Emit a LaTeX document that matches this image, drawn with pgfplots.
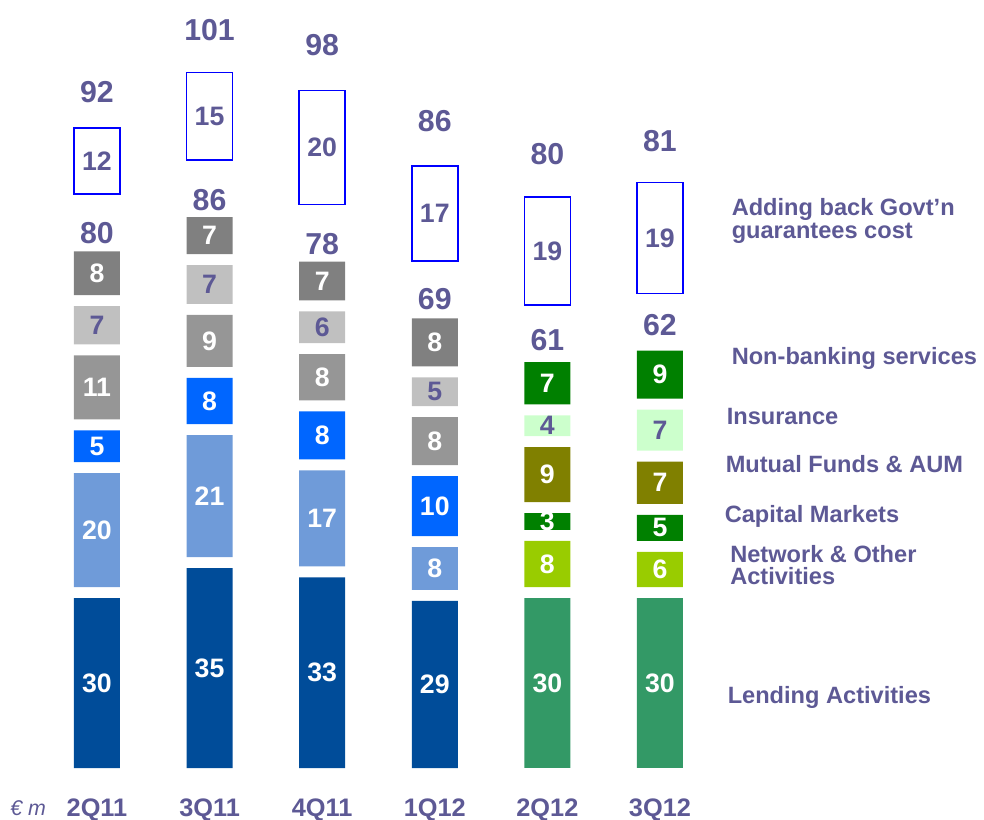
\documentclass[border=0pt]{standalone}
\usepackage{pgfplots}
\usepackage{pgfplotstable}
\pgfplotsset{compat=1.18}
\usepackage{fontspec}
\setmainfont{Liberation Sans}

\definecolor{txt}{HTML}{5D5995}
\definecolor{lendB}{HTML}{004C99}
\definecolor{netB}{HTML}{6F9BD9}
\definecolor{capB}{HTML}{0066FF}
\definecolor{mfB}{HTML}{969696}
\definecolor{insB}{HTML}{C0C0C0}
\definecolor{nbB}{HTML}{808080}
\definecolor{lendG}{HTML}{339966}
\definecolor{netG}{HTML}{99CC00}
\definecolor{capG}{HTML}{008000}
\definecolor{mfG}{HTML}{808000}
\definecolor{insG}{HTML}{CCFFCC}
\definecolor{nbG}{HTML}{008000}
\definecolor{govt}{HTML}{0000FF}

% heights (bottom to top) as drawn, then the rounded labels printed on them
% g = white gap between segments, s1/s2 = space under the govt box
% (subtotal sits in s1), t = space above the box for the total
\pgfplotstableread{
x L    N    C    M    I   NB  B    lL lN lC lM lI lNB lB sub tot g   s1  s2  t
0 29.4 19.7 5.5  11.1 6.6 7.6 11.4 30 20 5  11 7  8   12 80  92  1.9 6.2 3.7 12.6
1 34.6 21.1 8.0  9.0  6.7 6.4 15.1 35 21 8  9  7  7   15 86  101 1.9 5.9 4.0 14.9
2 33.0 16.6 8.3  8.0  5.5 6.7 19.7 33 17 8  8  6  7   20 78  98  1.9 6.2 3.7 15.6
3 28.9 7.4  10.4 8.3  5.0 8.3 16.4 29 8  10 8  5  8   17 69  86  1.9 6.6 3.3 15.6
}\olddata
\pgfplotstableread{
x L    N    C    M    I   NB  B    lL lN lC lM lI lNB lB sub tot g   s1  s2  t
4 29.4 8.0  2.9  9.5  3.6 7.3 18.7 30 8  3  9  4  7   19 61  80  1.9 7.6 2.3 14.9
5 29.4 6.1  4.5  7.3  7.1 8.3 19.2 30 6  5  7  7  9   19 62  81  1.9 8.7 1.2 14.2
}\newdata

\newcommand\seglab{\bfseries\fontsize{20}{20}\selectfont}
\newcommand\totlab{\bfseries\fontsize{22.7}{23}\selectfont}
\newcommand\leg{\bfseries\fontsize{17.7}{18}\selectfont}

\pgfplotsset{
  panel/.style={scale only axis, x=84.45pt, y=4.335pt, xmin=-0.5, xmax=5.5,
    ymin=0, ymax=133, enlargelimits=false, ybar stacked, bar width=34.5pt,
    clip=false, at={(30.5pt,39pt)}, anchor=south west},
  % stacked nodes near coords land in the middle of each segment
  seg/.style 2 args={fill=#1, draw=none, nodes near coords, point meta=explicit symbolic,
    every node near coord/.style={anchor=center, text=#2, font=\seglab, inner sep=0pt}},
  gap/.style={draw=none, fill=none},
  tot/.style={draw=none, fill=none, nodes near coords, point meta=explicit symbolic,
    every node near coord/.style={anchor=center, text=txt, font=\totlab, inner sep=0pt}},
}

\newcommand\drawstack[2]{%
  \addplot[seg={lend#2}{white}] table[x=x, y=L, meta=lL]{#1};
  \addplot[gap] table[x=x, y=g]{#1};
  \addplot[seg={net#2}{white}] table[x=x, y=N, meta=lN]{#1};
  \addplot[gap] table[x=x, y=g]{#1};
  \addplot[seg={cap#2}{white}] table[x=x, y=C, meta=lC]{#1};
  \addplot[gap] table[x=x, y=g]{#1};
  \addplot[seg={mf#2}{white}] table[x=x, y=M, meta=lM]{#1};
  \addplot[gap] table[x=x, y=g]{#1};
  \addplot[seg={ins#2}{txt}] table[x=x, y=I, meta=lI]{#1};
  \addplot[gap] table[x=x, y=g]{#1};
  \addplot[seg={nb#2}{white}] table[x=x, y=NB, meta=lNB]{#1};
  \addplot[tot] table[x=x, y=s1, meta=sub]{#1};
  \addplot[gap] table[x=x, y=s2]{#1};
  \addplot[seg={white}{txt}, draw=govt, line width=1.2pt] table[x=x, y=B, meta=lB]{#1};
  \addplot[tot] table[x=x, y=t, meta=tot]{#1};
}

\begin{document}
\begin{tikzpicture}
\useasboundingbox (0,0) rectangle (738pt,615pt);

\begin{axis}[panel,
  xtick={0,...,5}, xticklabels={2Q11,3Q11,4Q11,1Q12,2Q12,3Q12},
  ytick=\empty, axis line style={draw=none}, major tick length=0pt,
  xticklabel style={anchor=base, yshift=-36pt, text=txt,
    font=\bfseries\fontsize{19}{19}\selectfont}]
\drawstack{\olddata}{B}
\end{axis}

\begin{axis}[panel, hide axis]
\drawstack{\newdata}{G}
\end{axis}

\begin{scope}[x=0.75pt, y=0.75pt, every node/.style={inner sep=0pt, text=txt}]
\node[anchor=base west, font=\itshape\fontsize{16}{16}\selectfont] at (10, 4) {€ m};
\node[anchor=base west, font=\leg] at (731.5, 604) {Adding back Govt’n};
\node[anchor=base west, font=\leg] at (731.5, 581) {guarantees cost};
\node[anchor=base west, font=\leg] at (731.5, 455) {Non-banking services};
\node[anchor=base west, font=\leg] at (726.5, 395) {Insurance};
\node[anchor=base west, font=\leg] at (725.5, 347) {Mutual Funds \& AUM};
\node[anchor=base west, font=\leg] at (724.5, 297) {Capital Markets};
\node[anchor=base west, font=\leg] at (730, 257) {Network \& Other};
\node[anchor=base west, font=\leg] at (730, 235) {Activities};
\node[anchor=base west, font=\leg] at (727.5, 116) {Lending Activities};
\end{scope}
\end{tikzpicture}
\end{document}
